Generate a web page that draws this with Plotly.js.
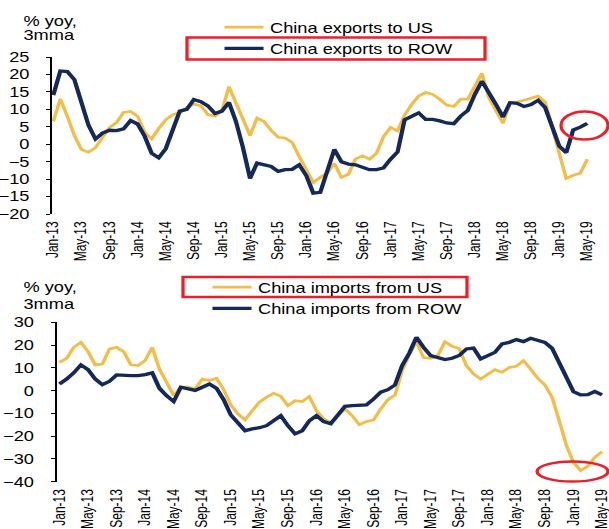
<!DOCTYPE html>
<html><head><meta charset="utf-8">
<script src="https://cdn.plot.ly/plotly-3.0.1.min.js"></script>
<style>
html,body{margin:0;padding:0;background:#fff;overflow:hidden;}
#chart{width:468px;height:529px;transform:scaleX(1.301282);transform-origin:0 0;}
</style></head><body><div id="chart"></div>
<script>
// ---- data ----
const monNames = ['Jan','Feb','Mar','Apr','May','Jun','Jul','Aug','Sep','Oct','Nov','Dec'];
const months = [];
for (let i = 0; i < 77; i++) { months.push(monNames[i % 12] + '-' + (13 + Math.floor(i / 12))); }
const tickLabels = ['Jan-13','May-13','Sep-13','Jan-14','May-14','Sep-14','Jan-15','May-15','Sep-15','Jan-16',
  'May-16','Sep-16','Jan-17','May-17','Sep-17','Jan-18','May-18','Sep-18','Jan-19','May-19'];

const exportsUS = [6.5,13,8,2.5,-1.5,-2.3,-1,2,4.8,6.2,9.1,9.4,8,3.5,1.5,4.5,7,8.5,9,10.5,
  11.5,11,8.5,8,9.5,16.5,12,7,2.5,7.5,6.5,4,2,1.8,0.5,-3.5,-7,-11,-9.5,-8.3,
  -5.5,-9.5,-8.6,-4.3,-3.3,-4.3,-2.6,2.2,4.8,3.8,8.4,11.4,13.8,14.8,14.3,12.9,11.2,10.8,12.9,12.9,
  16.7,20.3,13.3,9.5,6,11.9,12.1,12.6,13.2,13.8,12.1,4.8,-3.3,-9.8,-8.9,-8.3,-4.3];
const exportsROW = [14.1,21,20.8,18.5,12,5.5,1.5,3.2,4,3.9,4.4,6.8,5.8,2.3,-2.6,-3.9,-1.3,4.5,9.5,10,
  12.8,12.2,11,8.8,9.5,12,6.5,-1,-9.8,-5.4,-5.9,-6.4,-7.8,-7.3,-7.2,-5.9,-9,-14,-13.8,-8,
  -1.5,-5,-5.7,-5.9,-6.7,-7.3,-7.3,-6.8,-4.3,-2.2,7,8.1,9,7.1,7.1,6.7,6.1,5.9,8.1,9.7,
  14.3,18.1,15,11.4,7.8,11.9,11.7,10.8,11.4,12.6,10.5,5,-0.5,-2.4,4.1,4.9,6];
const importsUS = [12.4,14.2,19,21.2,17.1,11.3,11.7,18.3,19,17.1,11.3,11,13.2,19,9.5,3.7,-2.2,1.5,1.5,0.7,
  5.1,4.4,5.4,0.4,-6.3,-10.2,-12.9,-8.8,-5.1,-2.9,-1.2,-2.5,-6.6,-4.4,-4.8,-2.6,-8.8,-12.4,-14.2,-11,
  -8,-11,-15,-13.6,-12.9,-8,-4,-1.9,8.8,15.7,21.5,14.5,14.2,15.4,21.5,19.5,18.5,11,7.3,5.1,
  7.3,9.2,8.1,10.2,10.7,13.2,9.5,5.4,2.5,-2.9,-13.2,-23.9,-31.5,-35.1,-33.2,-29.3,-26.8];
const importsROW = [2.9,5.1,7.8,11.3,9.2,5.1,2.6,4.1,6.9,6.6,6.6,6.6,7,7.8,1,-2.2,-4.8,1.5,0.7,0.1,
  1.5,2.9,1,-4,-10.7,-14.2,-17.6,-16.8,-16.3,-15.4,-13.2,-11,-15.4,-19,-17.6,-13.2,-11,-13.6,-14.5,-11,
  -6.9,-6.6,-6.6,-6.3,-3.7,-0.7,0.4,2.5,11,16.5,23.4,19,15.4,14.5,13.6,14.2,15.4,18.3,18.7,13.9,
  15.4,16.8,20.5,21.2,22.4,21.5,23,22,21.2,18.6,12.4,6.3,-0.4,-1.9,-1.8,-0.4,-1.9];

// ---- styling ----
const YELLOW = '#F2BD4A', NAVY = '#14295A', RED = '#E8202A';
const FONT = 'Liberation Sans, Arial, sans-serif';
const W = 609, H = 529;
const px = v => v / W, py = v => 1 - v / H;
const tickIdx = tickLabels.map(t => months.indexOf(t));

const traces = [
  {x: months, y: exportsUS, xaxis: 'x', yaxis: 'y', name: 'China exports to US', legend: 'legend',
   mode: 'lines', line: {color: YELLOW, width: 2.7}},
  {x: months, y: exportsROW, xaxis: 'x', yaxis: 'y', name: 'China exports to ROW', legend: 'legend',
   mode: 'lines', line: {color: NAVY, width: 3.3}},
  {x: months, y: importsUS, xaxis: 'x2', yaxis: 'y2', name: 'China imports from US', legend: 'legend2',
   mode: 'lines', line: {color: YELLOW, width: 2.7}},
  {x: months, y: importsROW, xaxis: 'x2', yaxis: 'y2', name: 'China imports from ROW', legend: 'legend2',
   mode: 'lines', line: {color: NAVY, width: 3.3}}
];

const topRange = [-0.185, 76.67], botRange = [-0.42, 76.49];
const xCommon = {type: 'category', tickmode: 'array', tickvals: tickLabels, ticktext: tickLabels,
  tickangle: -90, tickfont: {size: 12, color: '#000', family: FONT}, showline: false, showgrid: false,
  zeroline: false, ticks: '', ticklabelstandoff: 4, fixedrange: true};
const zeroAxis = {type: 'linear', anchor: 'free', tickmode: 'array', tickvals: tickIdx, showticklabels: false,
  ticks: 'outside', ticklen: 4, tickwidth: 1, tickcolor: '#000', showline: true, linecolor: '#000',
  linewidth: 1.5, showgrid: false, zeroline: false, fixedrange: true};
const yCommon = {showline: true, linecolor: '#000', linewidth: 1.5, ticks: 'outside', ticklen: 3,
  tickwidth: 1, tickcolor: '#000', showgrid: false, zeroline: false, tickfont: {size: 14, color: '#000', family: FONT},
  ticklabelstandoff: 10, fixedrange: true};

const layout = {
  width: 468, height: 529, autosize: false,
  margin: {l: 0, r: 0, t: 0, b: 0, pad: 0},
  paper_bgcolor: '#fff', plot_bgcolor: '#fff',
  font: {family: FONT, color: '#000'},
  hovermode: false, showlegend: true,
  xaxis: Object.assign({}, xCommon, {domain: [px(52), px(592)], range: topRange, anchor: 'y'}),
  yaxis: Object.assign({}, yCommon, {domain: [py(214), py(57)], range: [-20, 25], dtick: 5, anchor: 'x'}),
  xaxis2: Object.assign({}, xCommon, {domain: [px(56.5), px(605.5)], range: botRange, anchor: 'y2'}),
  yaxis2: Object.assign({}, yCommon, {domain: [py(481.7), py(322.3)], range: [-40, 30], dtick: 10, anchor: 'x2'}),
  xaxis3: Object.assign({}, zeroAxis, {overlaying: 'x', position: py(144.1), range: topRange}),
  xaxis4: Object.assign({}, zeroAxis, {overlaying: 'x2', position: py(390), range: botRange}),
  legend: {x: px(218), y: py(11.5), xanchor: 'left', yanchor: 'top', bgcolor: 'rgba(0,0,0,0)',
    borderwidth: 0, font: {size: 14, color: '#000', family: FONT}, traceorder: 'normal'},
  legend2: {x: px(206), y: py(271.5), xanchor: 'left', yanchor: 'top', bgcolor: 'rgba(0,0,0,0)',
    borderwidth: 0, font: {size: 14, color: '#000', family: FONT}, traceorder: 'normal'},
  annotations: [
    {text: '% yoy,', xref: 'paper', yref: 'paper', x: px(21), y: py(20.5), xanchor: 'left', yanchor: 'middle',
     showarrow: false, font: {size: 14, color: '#000', family: FONT}},
    {text: '3mma', xref: 'paper', yref: 'paper', x: px(21), y: py(35.5), xanchor: 'left', yanchor: 'middle',
     showarrow: false, font: {size: 14, color: '#000', family: FONT}},
    {text: '% yoy,', xref: 'paper', yref: 'paper', x: px(21), y: py(287), xanchor: 'left', yanchor: 'middle',
     showarrow: false, font: {size: 14, color: '#000', family: FONT}},
    {text: '3mma', xref: 'paper', yref: 'paper', x: px(21), y: py(304), xanchor: 'left', yanchor: 'middle',
     showarrow: false, font: {size: 14, color: '#000', family: FONT}}
  ],
  shapes: [
    {type: 'rect', xref: 'paper', yref: 'paper', x0: px(187), x1: px(485), y0: py(37.5), y1: py(59.5),
     line: {color: RED, width: 2.5}, fillcolor: 'rgba(0,0,0,0)'},
    {type: 'rect', xref: 'paper', yref: 'paper', x0: px(183), x1: px(467), y0: py(277), y1: py(297),
     line: {color: RED, width: 2.5}, fillcolor: 'rgba(0,0,0,0)'},
    {type: 'circle', xref: 'paper', yref: 'paper', x0: px(561), x1: px(608), y0: py(111.5), y1: py(139.5),
     line: {color: RED, width: 2.5}, fillcolor: 'rgba(0,0,0,0)'},
    {type: 'circle', xref: 'paper', yref: 'paper', x0: px(537), x1: px(608), y0: py(461.5), y1: py(481.5),
     line: {color: RED, width: 2.5}, fillcolor: 'rgba(0,0,0,0)'}
  ]
};

Plotly.newPlot('chart', traces, layout, {displayModeBar: false, staticPlot: true});
</script></body></html>
